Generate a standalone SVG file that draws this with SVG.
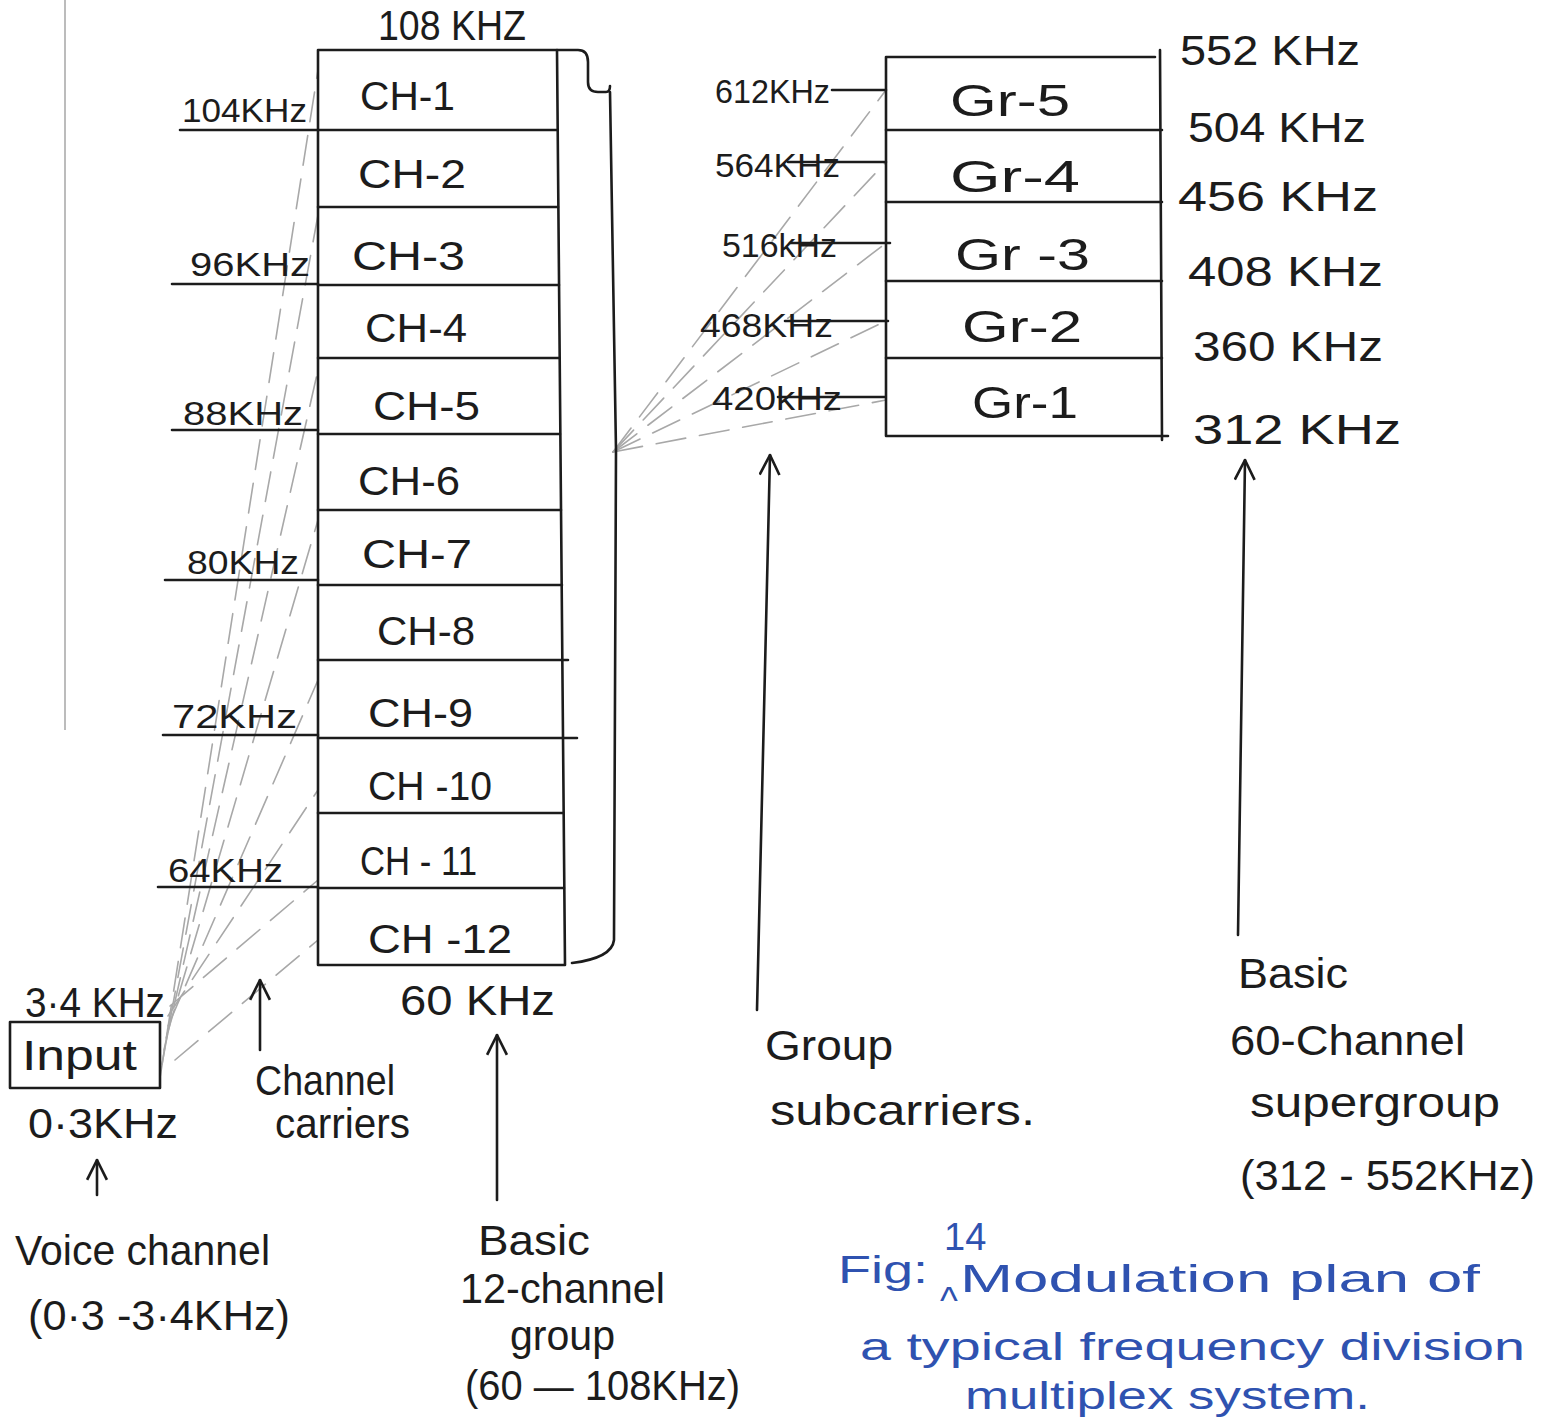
<svg xmlns="http://www.w3.org/2000/svg" width="1547" height="1417" viewBox="0 0 1547 1417">
  <style>
    .ink { fill: none; stroke: #1c1c1c; stroke-width: 2.6; stroke-linecap: round; stroke-linejoin: round; }
    .pencil { fill: none; stroke: #a8a8a8; stroke-width: 1.6; stroke-dasharray: 30 14; stroke-linecap: round; }
    .margin { fill: none; stroke: #bcbcbc; stroke-width: 2; }
    .t { font-family: "Liberation Sans", "DejaVu Sans", sans-serif; fill: #1c1c1c; }
    .ch { font-size: 40px; }
    .gr { font-size: 44px; }
    .f { font-size: 34px; }
    .lbl { font-size: 42px; }
    .blue { font-family: "Liberation Sans", "DejaVu Sans", sans-serif; fill: #2f52b0; font-size: 38px; }
  </style>
  <defs>
    <marker id="head" viewBox="0 0 20 20" refX="19" refY="10" markerWidth="22" markerHeight="22" markerUnits="userSpaceOnUse" orient="auto">
      <path d="M1,1 L19,10 L1,19" fill="none" stroke="#1c1c1c" stroke-width="2.4" stroke-linejoin="round"/>
    </marker>
  </defs>
  <rect width="1547" height="1417" fill="#ffffff"/>

  <!-- page margin rule -->
  <line class="margin" x1="65" y1="0" x2="65" y2="730"/>

  <!-- pencil guide lines: input to channel carriers, groups to group subcarriers -->
  <g id="guides">
    <line class="pencil" x1="160" y1="1078" x2="318" y2="70"/>
    <line class="pencil" x1="162" y1="1064" x2="318" y2="215"/>
    <line class="pencil" x1="164" y1="1050" x2="318" y2="370"/>
    <line class="pencil" x1="166" y1="1038" x2="318" y2="520"/>
    <line class="pencil" x1="168" y1="1026" x2="318" y2="680"/>
    <line class="pencil" x1="168" y1="1016" x2="318" y2="790"/>
    <line class="pencil" x1="170" y1="1006" x2="318" y2="880"/>
    <line class="pencil" x1="175" y1="1060" x2="318" y2="940"/>
    <line class="pencil" x1="613" y1="452" x2="886" y2="90"/>
    <line class="pencil" x1="613" y1="452" x2="886" y2="162"/>
    <line class="pencil" x1="613" y1="452" x2="886" y2="243"/>
    <line class="pencil" x1="613" y1="452" x2="886" y2="321"/>
    <line class="pencil" x1="613" y1="452" x2="886" y2="400"/>
  </g>

  <!-- basic 12-channel group -->
  <g id="channel-group">
    <path class="ink" d="M318,50 L557,50 M318,50 L318,965 L565,965 M557,50 L565,965"/>
    <path class="ink" d="M318,130 L557,130 M318,207 L558,207 M318,285 L559,285 M318,358 L559,358 M318,434 L560,434 M318,510 L561,510 M318,585 L562,585 M318,660 L568,660 M318,738 L577,738 M318,813 L563,813 M318,888 L564,888"/>
    <path class="ink" d="M180,130 L318,130 M172,284 L318,284 M172,430 L318,430 M165,580 L318,580 M163,735 L318,735 M158,887 L318,887"/>
    <text class="t lbl" x="378" y="40" textLength="148" lengthAdjust="spacingAndGlyphs">108 KHZ</text>
    <text class="t f" x="182" y="122" textLength="125" lengthAdjust="spacingAndGlyphs">104KHz</text>
    <text class="t f" x="190" y="276" textLength="120" lengthAdjust="spacingAndGlyphs">96KHz</text>
    <text class="t f" x="183" y="425" textLength="120" lengthAdjust="spacingAndGlyphs">88KHz</text>
    <text class="t f" x="187" y="574" textLength="112" lengthAdjust="spacingAndGlyphs">80KHz</text>
    <text class="t f" x="172" y="728" textLength="125" lengthAdjust="spacingAndGlyphs">72KHz</text>
    <text class="t f" x="168" y="882" textLength="115" lengthAdjust="spacingAndGlyphs">64KHz</text>
    <text class="t lbl" x="400" y="1015" textLength="155" lengthAdjust="spacingAndGlyphs">60 KHz</text>
    <text class="t ch" x="360" y="110" textLength="95" lengthAdjust="spacingAndGlyphs">CH-1</text>
    <text class="t ch" x="358" y="188" textLength="108" lengthAdjust="spacingAndGlyphs">CH-2</text>
    <text class="t ch" x="352" y="270" textLength="113" lengthAdjust="spacingAndGlyphs">CH-3</text>
    <text class="t ch" x="365" y="342" textLength="102" lengthAdjust="spacingAndGlyphs">CH-4</text>
    <text class="t ch" x="373" y="420" textLength="107" lengthAdjust="spacingAndGlyphs">CH-5</text>
    <text class="t ch" x="358" y="495" textLength="102" lengthAdjust="spacingAndGlyphs">CH-6</text>
    <text class="t ch" x="362" y="568" textLength="110" lengthAdjust="spacingAndGlyphs">CH-7</text>
    <text class="t ch" x="377" y="645" textLength="98" lengthAdjust="spacingAndGlyphs">CH-8</text>
    <text class="t ch" x="368" y="727" textLength="105" lengthAdjust="spacingAndGlyphs">CH-9</text>
    <text class="t ch" x="368" y="800" textLength="124" lengthAdjust="spacingAndGlyphs">CH -10</text>
    <text class="t ch" x="360" y="875" textLength="117" lengthAdjust="spacingAndGlyphs">CH - 11</text>
    <text class="t ch" x="368" y="953" textLength="144" lengthAdjust="spacingAndGlyphs">CH -12</text>
  </g>

  <!-- bracket gathering the group -->
  <g id="bracket">
    <path class="ink" d="M557,50 L578,50 Q588,50 588,62 L588,82 Q588,92 598,92 L606,92 Q610,92 610,86 M610,92 L616,450 L614,940 Q612,958 572,963"/>
  </g>

  <!-- voice channel input -->
  <g id="input">
    <rect class="ink" x="10" y="1022" width="150" height="66"/>
    <text class="t lbl" x="22" y="1070" textLength="115" lengthAdjust="spacingAndGlyphs">Input</text>
    <text class="t lbl" x="25" y="1017" textLength="140" lengthAdjust="spacingAndGlyphs">3·4 KHz</text>
    <text class="t lbl" x="28" y="1138" textLength="150" lengthAdjust="spacingAndGlyphs">0·3KHz</text>
  </g>

  <!-- supergroup of five groups -->
  <g id="supergroup">
    <path class="ink" d="M886,57 L1155,57 M1160,50 L1162,440 M886,57 L886,436 L1168,436"/>
    <path class="ink" d="M886,130 L1162,130 M886,202 L1162,202 M886,281 L1162,281 M886,358 L1162,358"/>
    <path class="ink" d="M832,90 L886,90 M788,162 L886,162 M790,243 L890,243 M785,321 L888,321 M778,397 L885,397"/>
    <text class="t gr" x="950" y="116" textLength="120" lengthAdjust="spacingAndGlyphs">Gr-5</text>
    <text class="t gr" x="950" y="192" textLength="130" lengthAdjust="spacingAndGlyphs">Gr-4</text>
    <text class="t gr" x="955" y="270" textLength="135" lengthAdjust="spacingAndGlyphs">Gr -3</text>
    <text class="t gr" x="962" y="342" textLength="120" lengthAdjust="spacingAndGlyphs">Gr-2</text>
    <text class="t gr" x="972" y="418" textLength="106" lengthAdjust="spacingAndGlyphs">Gr-1</text>
    <text class="t f" x="715" y="103" textLength="115" lengthAdjust="spacingAndGlyphs">612KHz</text>
    <text class="t f" x="715" y="177" textLength="125" lengthAdjust="spacingAndGlyphs">564KHz</text>
    <text class="t f" x="722" y="257" textLength="115" lengthAdjust="spacingAndGlyphs">516kHz</text>
    <text class="t f" x="700" y="337" textLength="133" lengthAdjust="spacingAndGlyphs">468KHz</text>
    <text class="t f" x="712" y="410" textLength="130" lengthAdjust="spacingAndGlyphs">420kHz</text>
    <text class="t lbl" x="1180" y="65" textLength="180" lengthAdjust="spacingAndGlyphs">552 KHz</text>
    <text class="t lbl" x="1188" y="142" textLength="178" lengthAdjust="spacingAndGlyphs">504 KHz</text>
    <text class="t lbl" x="1178" y="211" textLength="200" lengthAdjust="spacingAndGlyphs">456 KHz</text>
    <text class="t lbl" x="1188" y="286" textLength="195" lengthAdjust="spacingAndGlyphs">408 KHz</text>
    <text class="t lbl" x="1193" y="361" textLength="190" lengthAdjust="spacingAndGlyphs">360 KHz</text>
    <text class="t lbl" x="1193" y="444" textLength="208" lengthAdjust="spacingAndGlyphs">312 KHz</text>
  </g>

  <!-- pointer arrows -->
  <g id="connectors">
    <line class="ink" x1="97" y1="1195" x2="97" y2="1160" marker-end="url(#head)"/>
    <line class="ink" x1="260" y1="1050" x2="260" y2="980" marker-end="url(#head)"/>
    <line class="ink" x1="497" y1="1200" x2="497" y2="1035" marker-end="url(#head)"/>
    <line class="ink" x1="757" y1="1010" x2="770" y2="455" marker-end="url(#head)"/>
    <line class="ink" x1="1238" y1="935" x2="1245" y2="460" marker-end="url(#head)"/>
  </g>

  <!-- annotations -->
  <g id="notes">
    <text class="t lbl" x="15" y="1265" textLength="255" lengthAdjust="spacingAndGlyphs">Voice channel</text>
    <text class="t lbl" x="28" y="1330" textLength="262" lengthAdjust="spacingAndGlyphs">(0·3 -3·4KHz)</text>
    <text class="t lbl" x="255" y="1095" textLength="140" lengthAdjust="spacingAndGlyphs">Channel</text>
    <text class="t lbl" x="275" y="1138" textLength="135" lengthAdjust="spacingAndGlyphs">carriers</text>
    <text class="t lbl" x="478" y="1255" textLength="112" lengthAdjust="spacingAndGlyphs">Basic</text>
    <text class="t lbl" x="460" y="1303" font-size="40" textLength="205" lengthAdjust="spacingAndGlyphs">12-channel</text>
    <text class="t lbl" x="510" y="1350" font-size="38" textLength="105" lengthAdjust="spacingAndGlyphs">group</text>
    <text class="t lbl" x="465" y="1400" textLength="275" lengthAdjust="spacingAndGlyphs">(60 — 108KHz)</text>
    <text class="t lbl" x="765" y="1060" textLength="128" lengthAdjust="spacingAndGlyphs">Group</text>
    <text class="t lbl" x="770" y="1125" textLength="265" lengthAdjust="spacingAndGlyphs">subcarriers.</text>
    <text class="t lbl" x="1238" y="988" textLength="110" lengthAdjust="spacingAndGlyphs">Basic</text>
    <text class="t lbl" x="1230" y="1055" textLength="235" lengthAdjust="spacingAndGlyphs">60-Channel</text>
    <text class="t lbl" x="1250" y="1117" textLength="250" lengthAdjust="spacingAndGlyphs">supergroup</text>
    <text class="t lbl" x="1240" y="1190" textLength="295" lengthAdjust="spacingAndGlyphs">(312 - 552KHz)</text>
  </g>

  <!-- figure caption -->
  <g id="caption">
    <text class="blue" x="838" y="1283" textLength="90" lengthAdjust="spacingAndGlyphs">Fig:</text>
    <text class="blue" x="944" y="1250" font-size="28">14</text>
    <text class="blue" x="940" y="1314" font-size="32">^</text>
    <text class="blue" x="960" y="1292" textLength="520" lengthAdjust="spacingAndGlyphs">Modulation  plan of</text>
    <text class="blue" x="860" y="1360" textLength="665" lengthAdjust="spacingAndGlyphs">a typical frequency division</text>
    <text class="blue" x="965" y="1409" font-size="30" textLength="405" lengthAdjust="spacingAndGlyphs">multiplex  system.</text>
  </g>
</svg>
